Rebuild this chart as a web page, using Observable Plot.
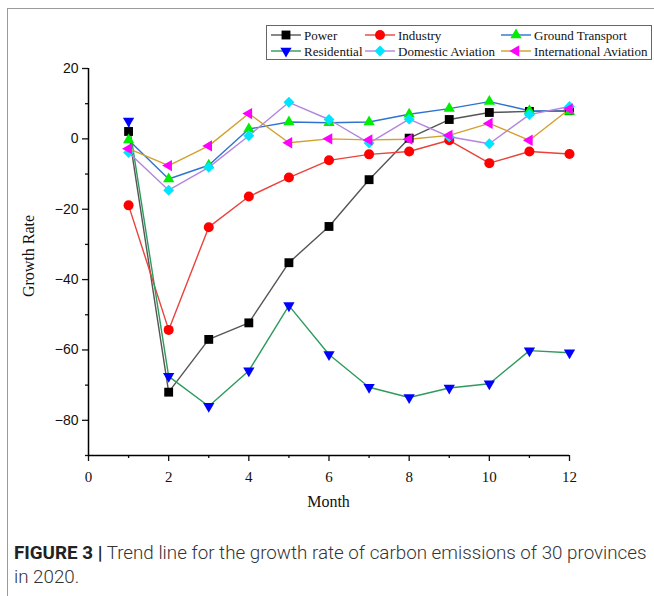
<!DOCTYPE html>
<html><head><meta charset="utf-8">
<script src="https://cdn.jsdelivr.net/npm/d3@7"></script>
<script src="https://cdn.jsdelivr.net/npm/@observablehq/plot@0.6"></script>
<style>
html,body{margin:0;padding:0;background:#fff;}
#wrap{position:relative;width:654px;height:596px;overflow:hidden;}
#frame{position:absolute;left:7px;top:8px;width:700px;height:700px;border-left:1px solid #999;border-top:1px solid #999;}
#chart{position:absolute;left:0;top:0;}
#legend{position:absolute;left:0;top:0;}
#caption{position:absolute;left:14px;top:541px;width:640px;font-family:Roboto,"Liberation Sans",sans-serif;font-size:18.8px;line-height:24px;color:#333;font-weight:300;white-space:nowrap;}
#caption b{font-weight:700;color:#222;}
</style></head>
<body><div id="wrap"><div id="frame"></div><div id="chart"></div><svg id="legend" width="654" height="80"></svg>
<div id="caption"><b>FIGURE 3 |</b><span> Trend line for the growth rate of carbon emissions of 30 provinces</span><br><span>in 2020.</span></div></div>
<script>
const months = [1,2,3,4,5,6,7,8,9,10,11,12];
const power       = [2.1, -72.0, -57.0, -52.3, -35.2, -24.9, -11.6, 0.2, 5.5, 7.5, 7.8, 8.0];
const industry    = [-18.9, -54.3, -25.1, -16.4, -11.0, -6.1, -4.4, -3.6, -0.4, -6.9, -3.6, -4.3];
const ground      = [-0.3, -11.4, -7.5, 2.8, 4.8, 4.6, 4.8, 7.0, 8.6, 10.6, 8.0, 7.8];
const residential = [5.1, -67.5, -76.0, -65.9, -47.4, -61.3, -70.6, -73.5, -70.8, -69.6, -60.2, -60.8];
const domestic    = [-3.9, -14.6, -8.1, 0.9, 10.4, 5.5, -1.2, 5.6, 0.6, -1.4, 6.9, 9.2];
const intl        = [-2.8, -7.6, -2.0, 7.2, -1.1, 0.0, -0.3, -0.1, 1.0, 4.4, -0.4, 8.5];
const seriesNames = ["Power","Industry","Ground Transport","Residential","Domestic Aviation","International Aviation"];
const seriesVals  = [power, industry, ground, residential, domestic, intl];
const lineColors  = ["#555555","#e8433c","#2f72d0","#2e9a5c","#b286e0","#d2a02c"];
const markColors  = ["#000000","#ff0000","#00ee00","#0000ff","#00e5ff","#ff00ff"];
const symbols     = ["square","circle","triangle","triangle","diamond2","triangle"];
const rotations   = [0,0,0,180,0,-90];
const radii       = [5.0,5.0,4.2,4.2,4.9,4.2];
const xTicks = [0,2,4,6,8,10,12];
const xMinor = [1,3,5,7,9,11];
const yTicks = [-80,-60,-40,-20,0,20];
const yMinor = [-90,-70,-50,-30,-10,10];
const xLabel = "Month";
const yLabel = "Growth Rate";

const rows = [];
seriesNames.forEach((s,i)=>months.forEach((m,j)=>rows.push({series:s,month:m,value:seriesVals[i][j]})));

const marks = [];
seriesNames.forEach((s,i)=>{
  marks.push(Plot.line(rows.filter(d=>d.series===s),{x:"month",y:"value",stroke:lineColors[i],strokeWidth:1.4}));
});
seriesNames.forEach((s,i)=>{
  marks.push(Plot.dot(rows.filter(d=>d.series===s),{x:"month",y:"value",symbol:()=>symbols[i],fill:markColors[i],stroke:"none",r:radii[i],rotate:rotations[i]}));
});

const W=654,H=515,ML=88,MR=85,MT=68,MB=60;
const chart = Plot.plot({
  width:W, height:H,
  marginLeft:ML, marginRight:MR, marginTop:MT, marginBottom:MB,
  x:{domain:[0,12]},
  y:{domain:[-90,20]},
  symbol:{type:"identity"},
  style:{background:"transparent",color:"#111"},
  marks:[
    Plot.axisX({ticks:xMinor,tickSize:3,tickFormat:()=>"",label:null,strokeWidth:1.3}),
    Plot.axisY({ticks:yMinor,tickSize:3,tickFormat:()=>"",label:null,strokeWidth:1.3}),
    Plot.axisX({ticks:xTicks,tickSize:6,tickPadding:10,strokeWidth:1.3,fontSize:15,fontFamily:"Liberation Serif",label:null}),
    Plot.axisY({ticks:yTicks,tickSize:6,tickPadding:4,strokeWidth:1.3,fontSize:14,fontFamily:"Liberation Sans",label:null}),
    Plot.ruleY([-90],{stroke:"#000",strokeWidth:1.5}),
    Plot.ruleX([0],{stroke:"#000",strokeWidth:1.5}),
    ...marks
  ]
});
document.getElementById("chart").appendChild(chart);
const svg = d3.select(chart);
svg.append("text").attr("x",(ML+W-MR)/2).attr("y",507).attr("text-anchor","middle")
  .attr("font-family","Liberation Serif").attr("font-size",16).attr("fill","#111").text(xLabel);
svg.append("text").attr("transform",`translate(34,256) rotate(-90)`).attr("text-anchor","middle")
  .attr("font-family","Liberation Serif").attr("font-size",16).attr("fill","#111").text(yLabel);

// legend
const lg = d3.select("#legend");
lg.append("rect").attr("x",266.5).attr("y",25.5).attr("width",385).attr("height",34).attr("fill","#fff").attr("stroke","#666").attr("stroke-width",1);
const colX = [271,365,501];
seriesNames.forEach((s,i)=>{
  const col = i%3, row = Math.floor(i/3);
  const x0 = colX[col], y0 = 35 + row*16;
  const g = lg.append("g");
  g.append("line").attr("x1",x0).attr("x2",x0+30).attr("y1",y0).attr("y2",y0).attr("stroke",lineColors[i]).attr("stroke-width",1.4);
  const sym = {square:d3.symbolSquare,circle:d3.symbolCircle,triangle:d3.symbolTriangle,diamond2:d3.symbolDiamond2}[symbols[i]];
  const size = Math.PI*radii[i]*radii[i];
  g.append("path").attr("d",d3.symbol(sym,size)()).attr("transform",`translate(${x0+15},${y0}) rotate(${rotations[i]})`).attr("fill",markColors[i]);
  g.append("text").attr("x",x0+33).attr("y",y0+4.5).attr("font-family","Liberation Serif").attr("font-size",13).attr("fill","#111").text(s);
});
</script></body></html>
